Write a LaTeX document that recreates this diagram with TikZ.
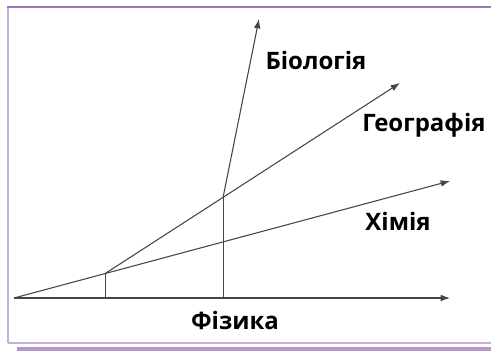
\documentclass[tikz,border=0pt]{standalone}
\usepackage{fontspec}
\setmainfont{Open Sans}
\usetikzlibrary{positioning,arrows.meta,calc}
\definecolor{frm}{HTML}{9A78BE}
\definecolor{frmlt}{HTML}{C7AEDB}
\definecolor{shd}{HTML}{B497CB}
\definecolor{axis}{HTML}{454545}
\tikzset{
  ax/.style={draw=axis, line width=0.8pt, -{Latex[length=7pt,width=5pt]}},
  seg/.style={draw=axis, line width=0.8pt},
  lbl/.style={font=\fontsize{18}{20}\selectfont\bfseries, text=black, anchor=base, inner sep=0pt}
}
\begin{document}
\begin{tikzpicture}[x=0.75pt, y=-0.75pt]
\useasboundingbox (0,0) rectangle (491,351);
\fill[white] (0,0) rectangle (491,351);
\fill[shd] (17,346.5) rectangle (491,351);
\draw[frmlt, line width=1.5pt] (7.5,7) -- (7.5,343);
\draw[frmlt, line width=0.8pt] (7.5,343) -- (491,343);
\draw[frm, line width=1pt] (7,7) -- (491,7);
\coordinate (O) at (14,298);
\coordinate (Ph) at (450,298);
\coordinate (Ch) at (450,181);
\coordinate (Ge) at (400,83);
\coordinate (Bi) at (259,19);
\coordinate (A) at ($(O)!0.209!(Ch)$);
\coordinate (B) at ($(A)!0.4!(Ge)$);
\draw[ax] (O) -- (Ph);
\draw[ax] (O) -- (Ch);
\draw[ax] (A) -- (Ge);
\draw[ax] (B) -- (Bi);
\draw[seg] (A) -- (A |- O);
\draw[seg] (B) -- (B |- O);
\node[lbl] (bio) at (316,69) {Біологія};
\node[lbl] (geo) at (424,131) {Географія};
\node[lbl] (chem) at (398,230) {Хімія};
\node[lbl] (phys) at (235,329) {Фізика};
\end{tikzpicture}
\end{document}
